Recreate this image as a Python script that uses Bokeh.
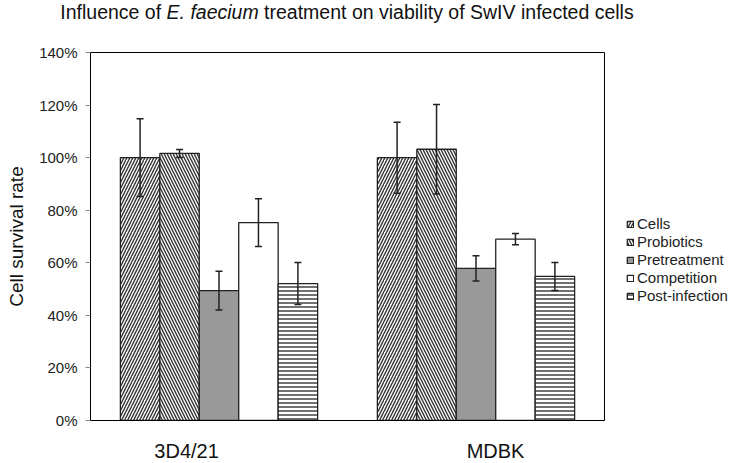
from bokeh.plotting import figure
from bokeh.models import (Range1d, Whisker, TeeHead, ColumnDataSource, Legend,
                          LegendItem, FixedTicker, PrintfTickFormatter, Div)
from bokeh.layouts import column
from bokeh.embed import file_html
from bokeh.resources import INLINE

cell_lines = ["3D4/21", "MDBK"]
treatments = ["Cells", "Probiotics", "Pretreatment", "Competition", "Post-infection"]
means = {
    "Cells": [100.0, 100.0],
    "Probiotics": [101.6, 103.2],
    "Pretreatment": [49.4, 57.9],
    "Competition": [75.3, 69.0],
    "Post-infection": [52.1, 54.8],
}
errors = {
    "Cells": [14.8, 13.5],
    "Probiotics": [1.5, 17.0],
    "Pretreatment": [7.4, 4.8],
    "Competition": [9.1, 2.1],
    "Post-infection": [8.0, 5.3],
}
y_ticks = [0, 20, 40, 60, 80, 100, 120, 140]

styles = {
    "Cells": dict(fill_color="white", hatch_pattern="right_diagonal_line"),
    "Probiotics": dict(fill_color="white", hatch_pattern="left_diagonal_line"),
    "Pretreatment": dict(fill_color="#999999", hatch_pattern=None),
    "Competition": dict(fill_color="white", hatch_pattern=None),
    "Post-infection": dict(fill_color="white", hatch_pattern="horizontal_line"),
}

FONT = "Liberation Sans"
bar_w = 0.1535
label_pos = [0.374, 1.576]

title = Div(text='Influence of <i>E. faecium</i> treatment on viability of SwIV infected cells',
            width=694, height=28, margin=0,
            styles={"font-family": FONT, "font-size": "19.5px", "color": "#111111",
                    "text-align": "center", "line-height": "20px",
                    "padding-top": "2px", "width": "694px", "white-space": "nowrap"})

p = figure(output_backend="svg", toolbar_location=None,
           frame_width=514, frame_height=368,
           min_border_left=90, min_border_top=24, min_border_right=128,
           min_border_bottom=43,
           x_range=Range1d(0, 2), y_range=Range1d(0, 140))

p.xgrid.visible = False
p.ygrid.visible = False
p.outline_line_color = "black"
p.outline_line_width = 1
p.background_fill_color = "white"
p.border_fill_color = "white"

legend_items = []
for k, t in enumerate(treatments):
    xs = [i + 0.5 + (k - 2) * bar_w for i in range(len(cell_lines))]
    src = ColumnDataSource(dict(
        x=xs, top=means[t],
        upper=[m + e for m, e in zip(means[t], errors[t])],
        lower=[m - e for m, e in zip(means[t], errors[t])]))
    st = styles[t]
    kw = dict(fill_color=st["fill_color"], line_color="#222222", line_width=1.3)
    if st["hatch_pattern"]:
        kw.update(hatch_pattern=st["hatch_pattern"], hatch_color="#333333",
                  hatch_weight=1.4,
                  hatch_scale=4 if st["hatch_pattern"] == "horizontal_line" else 6)
    r = p.vbar(x="x", top="top", width=bar_w, bottom=0, source=src, **kw)
    legend_items.append(LegendItem(label=t, renderers=[r]))
    w = Whisker(base="x", upper="upper", lower="lower", source=src, level="overlay",
                line_color="#222222", line_width=1.5,
                upper_head=TeeHead(size=7, line_color="#222222", line_width=1.5),
                lower_head=TeeHead(size=7, line_color="#222222", line_width=1.5))
    p.add_layout(w)

legend = Legend(items=legend_items, location=(22, 116),
                background_fill_alpha=0, border_line_alpha=0,
                label_text_font=FONT, label_text_font_size="15px",
                label_text_color="#222222",
                glyph_width=8, glyph_height=8, label_height=16,
                spacing=1, padding=0, margin=0, label_standoff=3)
p.add_layout(legend, "right")

# y axis
p.yaxis.ticker = FixedTicker(ticks=y_ticks)
p.yaxis.formatter = PrintfTickFormatter(format="%d%%")
p.yaxis.major_tick_out = 5
p.yaxis.major_tick_in = 0
p.yaxis.minor_tick_line_color = None
p.yaxis.major_tick_line_color = "#888888"
p.yaxis.axis_line_color = "black"
p.yaxis.major_label_text_font = FONT
p.yaxis.major_label_text_font_size = "15px"
p.yaxis.major_label_text_color = "#222222"
p.yaxis.major_label_standoff = 8
p.yaxis.axis_label = "Cell survival rate"
p.yaxis.axis_label_text_font = FONT
p.yaxis.axis_label_text_font_size = "19px"
p.yaxis.axis_label_text_font_style = "normal"
p.yaxis.axis_label_text_color = "#111111"
p.yaxis.axis_label_standoff = 9

# x axis
p.xaxis.ticker = FixedTicker(ticks=label_pos)
p.xaxis.major_label_overrides = {label_pos[i]: cell_lines[i] for i in range(len(cell_lines))}
p.xaxis.major_tick_line_color = None
p.xaxis.major_tick_out = 0
p.xaxis.major_tick_in = 0
p.xaxis.minor_tick_line_color = None
p.xaxis.axis_line_color = "black"
p.xaxis.major_label_text_font = FONT
p.xaxis.major_label_text_font_size = "20px"
p.xaxis.major_label_text_color = "#111111"
p.xaxis.major_label_standoff = 19

layout = column(title, p, spacing=0)
open("out.html", "w").write(file_html(layout, INLINE))
